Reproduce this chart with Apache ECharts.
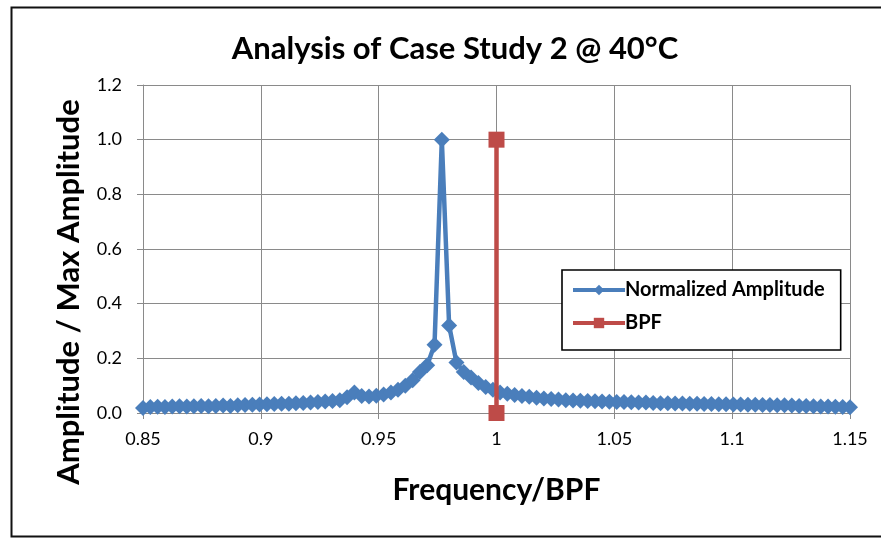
<!DOCTYPE html>
<html>
<head>
<meta charset="utf-8">
<script src="https://cdn.jsdelivr.net/npm/echarts@6/dist/echarts.min.js"></script>
<style>
html,body{margin:0;padding:0;background:#fff;}
#chart{width:881px;height:538px;}
</style>
</head>
<body>
<div id="chart"></div>
<script>
var titleText = 'Analysis of Case Study 2 @ 40°C';
var xAxisName = 'Frequency/BPF';
var yAxisName = 'Amplitude / Max Amplitude';
var seriesNames = ['Normalized Amplitude', 'BPF'];

var frequency = [
  0.8500, 0.8531, 0.8562, 0.8593, 0.8624, 0.8655, 0.8686, 0.8716, 0.8747, 0.8778,
  0.8809, 0.8840, 0.8871, 0.8902, 0.8933, 0.8964, 0.8995, 0.9026, 0.9057, 0.9088,
  0.9119, 0.9149, 0.9180, 0.9211, 0.9242, 0.9273, 0.9304, 0.9335, 0.9366, 0.9397,
  0.9428, 0.9459, 0.9490, 0.9521, 0.9552, 0.9582, 0.9613, 0.9644, 0.9675, 0.9706,
  0.9737, 0.9768, 0.9799, 0.9830, 0.9861, 0.9892, 0.9923, 0.9954, 0.9985, 1.0015,
  1.0046, 1.0077, 1.0108, 1.0139, 1.0170, 1.0201, 1.0232, 1.0263, 1.0294, 1.0325,
  1.0356, 1.0387, 1.0418, 1.0448, 1.0479, 1.0510, 1.0541, 1.0572, 1.0603, 1.0634,
  1.0665, 1.0696, 1.0727, 1.0758, 1.0789, 1.0820, 1.0851, 1.0881, 1.0912, 1.0943,
  1.0974, 1.1005, 1.1036, 1.1067, 1.1098, 1.1129, 1.1160, 1.1191, 1.1222, 1.1253,
  1.1284, 1.1314, 1.1345, 1.1376, 1.1407, 1.1438, 1.1469, 1.1500
];
var amplitude = [
  0.018, 0.022, 0.023, 0.022, 0.024, 0.025, 0.024, 0.025, 0.026, 0.025,
  0.026, 0.027, 0.026, 0.028, 0.029, 0.030, 0.031, 0.032, 0.033, 0.034,
  0.034, 0.036, 0.037, 0.038, 0.040, 0.042, 0.044, 0.047, 0.058, 0.075,
  0.062, 0.060, 0.063, 0.068, 0.075, 0.085, 0.100, 0.120, 0.150, 0.175,
  0.250, 1.000, 0.320, 0.185, 0.150, 0.130, 0.110, 0.095, 0.085, 0.075,
  0.070, 0.066, 0.062, 0.059, 0.056, 0.053, 0.051, 0.049, 0.047, 0.046,
  0.045, 0.044, 0.043, 0.042, 0.041, 0.040, 0.040, 0.039, 0.038, 0.038,
  0.037, 0.036, 0.036, 0.035, 0.035, 0.034, 0.034, 0.033, 0.033, 0.032,
  0.032, 0.031, 0.031, 0.030, 0.030, 0.029, 0.029, 0.028, 0.028, 0.027,
  0.026, 0.026, 0.025, 0.024, 0.024, 0.023, 0.022, 0.021
];
var bpfX = [1, 1];
var bpfY = [0, 1];

var xMin = 0.85, xMax = 1.15, xStep = 0.05;
var yMin = 0, yMax = 1.2, yStep = 0.2;

var chart = echarts.init(document.getElementById('chart'));
var font = 'Lato, "Open Sans", sans-serif';
var gridColor = '#8a8a8a';

var option = {
  backgroundColor: '#ffffff',
  animation: false,
  textStyle: { fontFamily: font },
  title: {
    text: titleText,
    left: 450, top: 28, textAlign: 'center',
    textStyle: { fontFamily: font, fontWeight: 'bold', fontSize: 31, color: '#000' }
  },
  graphic: [{
    type: 'rect', left: 9, top: 5, z: 100, silent: true,
    shape: { width: 900, height: 529 },
    style: { fill: 'none', stroke: '#111', lineWidth: 2 }
  }, {
    type: 'text', x: 69, y: 292, rotation: Math.PI / 2, z: 100, silent: true,
    style: {
      text: yAxisName, fill: '#000', align: 'center', verticalAlign: 'middle',
      font: 'bold 31px ' + font
    }
  }],
  grid: { left: 143, right: 31, top: 85, bottom: 125, containLabel: false },
  legend: {
    orient: 'vertical',
    left: 562, top: 270,
    itemWidth: 52, itemHeight: 13, itemGap: 13,
    padding: [10, 16, 17, 9],
    backgroundColor: '#ffffff',
    borderColor: '#000', borderWidth: 1.6,
    lineStyle: { width: 4 },
    textStyle: { fontFamily: font, fontWeight: 'bold', fontSize: 20, color: '#000', padding: [0, 0, 0, -5] },
    data: seriesNames
  },
  xAxis: {
    type: 'value', min: xMin, max: xMax, interval: xStep,
    name: xAxisName, nameLocation: 'middle', nameGap: 62,
    nameTextStyle: { fontFamily: font, fontWeight: 'bold', fontSize: 30, color: '#000' },
    axisLine: { show: true, lineStyle: { color: gridColor, width: 1 } },
    axisTick: { show: true, length: 6, lineStyle: { color: gridColor } },
    axisLabel: { fontFamily: font, fontSize: 18, color: '#000', margin: 17 },
    splitLine: { show: true, lineStyle: { color: gridColor, width: 1 } }
  },
  yAxis: {
    type: 'value', min: yMin, max: yMax, interval: yStep,
    axisLine: { show: true, lineStyle: { color: gridColor, width: 1 } },
    axisTick: { show: true, length: 6, lineStyle: { color: gridColor } },
    axisLabel: { fontFamily: font, fontSize: 18, color: '#000', margin: 21,
      formatter: function (v) { return v.toFixed(1); } },
    splitLine: { show: true, lineStyle: { color: gridColor, width: 1 } }
  },
  series: [{
    name: seriesNames[0], type: 'line',
    data: frequency.map(function (f, i) { return [f, amplitude[i]]; }),
    symbol: 'diamond', symbolSize: 16,
    lineStyle: { color: '#4A7EBB', width: 4.5 },
    itemStyle: { color: '#4A7EBB', borderWidth: 0 },
    z: 3
  }, {
    name: seriesNames[1], type: 'line',
    data: bpfX.map(function (x, i) { return [x, bpfY[i]]; }),
    symbol: 'rect', symbolSize: 16,
    lineStyle: { color: '#BE4B48', width: 4.5 },
    itemStyle: { color: '#BE4B48', borderWidth: 0 },
    z: 4
  }]
};
chart.setOption(option);
</script>
</body>
</html>
